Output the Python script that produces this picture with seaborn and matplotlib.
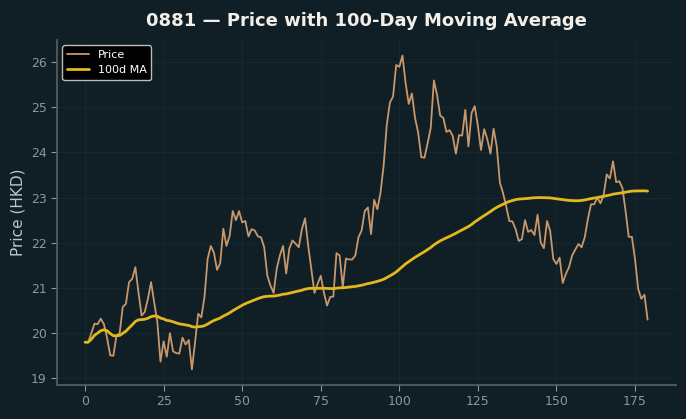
import numpy as np
import pandas as pd
import matplotlib
matplotlib.use("Agg")
import matplotlib.pyplot as plt
import seaborn as sns

title = "0881 — Price with 100-Day Moving Average"
ylabel = "Price (HKD)"
price_label = "Price"
ma_label = "100d MA"
ma_window = 100

price = [
    19.80, 19.80, 20.00, 20.21, 20.20, 20.32, 20.20, 19.90, 19.51, 19.50,
    19.95, 20.00, 20.58, 20.65, 21.13, 21.20, 21.46, 20.90, 20.39, 20.47,
    20.76, 21.13, 20.68, 20.25, 19.37, 19.82, 19.48, 20.00, 19.60, 19.56,
    19.55, 19.90, 19.75, 19.85, 19.20, 19.80, 20.43, 20.35, 20.80, 21.64,
    21.93, 21.78, 21.40, 21.55, 22.31, 21.93, 22.15, 22.70, 22.50, 22.70,
    22.45, 22.48, 22.14, 22.30, 22.27, 22.14, 22.12, 21.90, 21.27, 21.05,
    20.89, 21.43, 21.72, 21.93, 21.32, 21.87, 22.05, 21.98, 21.90, 22.30,
    22.54, 21.93, 21.42, 20.89, 21.09, 21.27, 20.90, 20.61, 20.80, 20.81,
    21.77, 21.72, 21.02, 21.65, 21.63, 21.63, 21.72, 22.12, 22.27, 22.70,
    22.78, 22.19, 22.95, 22.74, 23.10, 23.70, 24.60, 25.10, 25.23, 25.93,
    25.89, 26.14, 25.53, 25.07, 25.30, 24.76, 24.43, 23.89, 23.88, 24.20,
    24.54, 25.59, 25.27, 24.81, 24.76, 24.45, 24.49, 24.36, 23.97, 24.38,
    24.37, 24.94, 24.13, 24.87, 25.02, 24.58, 24.05, 24.51, 24.29, 23.97,
    24.52, 24.13, 23.33, 23.10, 22.81, 22.48, 22.47, 22.30, 22.04, 22.08,
    22.50, 22.24, 22.28, 22.17, 22.62, 22.00, 21.88, 22.48, 22.26, 21.64,
    21.53, 21.67, 21.11, 21.31, 21.46, 21.72, 21.85, 21.97, 21.90, 22.12,
    22.52, 22.85, 22.85, 23.00, 22.87, 23.05, 23.51, 23.42, 23.80, 23.34,
    23.36, 23.21, 22.70, 22.13, 22.13, 21.64, 20.98, 20.76, 20.85, 20.30,
]

day = np.arange(len(price))
df = pd.DataFrame({"day": day, "price": price})
df["ma"] = df["price"].rolling(ma_window, min_periods=1).mean()

bg = "#101f26"
sns.set_theme(style="dark")
plt.rcParams.update({
    "font.family": ["DejaVu Sans"],
    "figure.facecolor": bg,
    "axes.facecolor": bg,
    "axes.edgecolor": "#555f63",
    "axes.grid": True,
    "grid.color": "#18272e",
    "grid.linewidth": 0.8,
    "xtick.color": "#8f969a",
    "ytick.color": "#8f969a",
    "xtick.bottom": True,
    "ytick.left": True,
})

fig, ax = plt.subplots(figsize=(6.86, 4.19), dpi=100)
fig.subplots_adjust(left=0.083, right=0.985, top=0.905, bottom=0.081)

sns.lineplot(data=df, x="day", y="price", ax=ax, color="#c8986c", linewidth=1.3,
             label=price_label)
sns.lineplot(data=df, x="day", y="ma", ax=ax, color="#e3b81c", linewidth=2.0,
             label=ma_label)

ax.set_title(title, color="#f2efe9", fontsize=13, fontweight="bold", pad=10)
ax.set_xlabel("")
ax.set_ylabel(ylabel, color="#c0c4c6", fontsize=11)
ax.tick_params(labelsize=9, length=4, width=0.8)
for s in ["top", "right"]:
    ax.spines[s].set_visible(False)
ax.set_xticks([0, 25, 50, 75, 100, 125, 150, 175])

leg = ax.legend(loc="upper left", fontsize=8, facecolor="black", edgecolor="#bbbbbb",
                framealpha=1.0)
for t in leg.get_texts():
    t.set_color("white")

fig.savefig("out.png", dpi=100, facecolor=bg)
